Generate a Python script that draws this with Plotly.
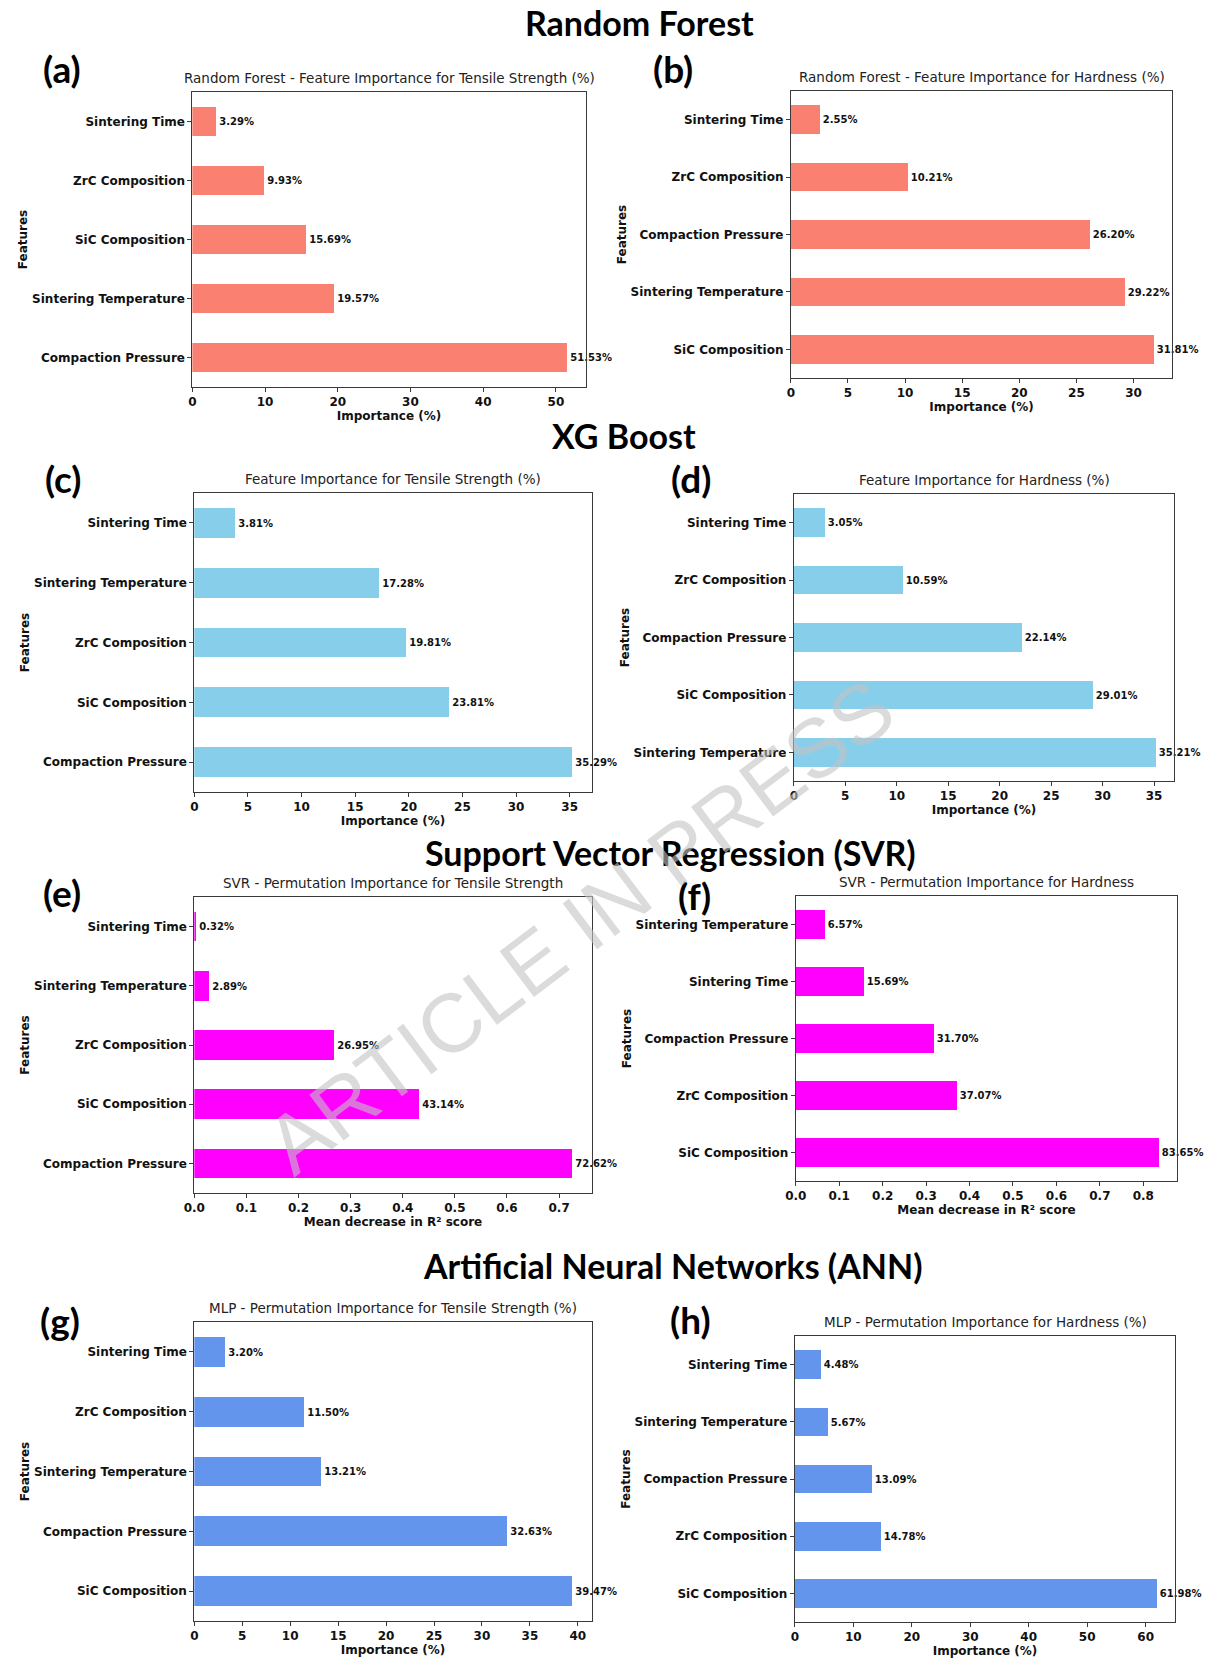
import plotly.graph_objects as go

W, H = 1211, 1659

# ---- data (bottom-to-top order within each panel) ----
rf_ts_features = ["Compaction Pressure", "Sintering Temperature", "SiC Composition", "ZrC Composition", "Sintering Time"]
rf_ts_values = [51.53, 19.57, 15.69, 9.93, 3.29]

rf_hd_features = ["SiC Composition", "Sintering Temperature", "Compaction Pressure", "ZrC Composition", "Sintering Time"]
rf_hd_values = [31.81, 29.22, 26.20, 10.21, 2.55]

xgb_ts_features = ["Compaction Pressure", "SiC Composition", "ZrC Composition", "Sintering Temperature", "Sintering Time"]
xgb_ts_values = [35.29, 23.81, 19.81, 17.28, 3.81]

xgb_hd_features = ["Sintering Temperature", "SiC Composition", "Compaction Pressure", "ZrC Composition", "Sintering Time"]
xgb_hd_values = [35.21, 29.01, 22.14, 10.59, 3.05]

svr_ts_features = ["Compaction Pressure", "SiC Composition", "ZrC Composition", "Sintering Temperature", "Sintering Time"]
svr_ts_values = [0.7262, 0.4314, 0.2695, 0.0289, 0.0032]

svr_hd_features = ["SiC Composition", "ZrC Composition", "Compaction Pressure", "Sintering Time", "Sintering Temperature"]
svr_hd_values = [0.8365, 0.3707, 0.3170, 0.1569, 0.0657]

mlp_ts_features = ["SiC Composition", "Compaction Pressure", "Sintering Temperature", "ZrC Composition", "Sintering Time"]
mlp_ts_values = [39.47, 32.63, 13.21, 11.50, 3.20]

mlp_hd_features = ["SiC Composition", "ZrC Composition", "Compaction Pressure", "Sintering Temperature", "Sintering Time"]
mlp_hd_values = [61.98, 14.78, 13.09, 5.67, 4.48]

SALMON, SKYBLUE, MAGENTA, CORNFLOWER = "#FA8072", "#87CEEB", "#FF00FF", "#6495ED"
IMP = "Importance (%)"
R2 = "Mean decrease in R² score"

# panel specs: features, values, colour, title, x-title, dtick, scale for labels, plot box (px: x0, x1, y0, y1), tag, tag position
panels = [
    (rf_ts_features, rf_ts_values, SALMON, "Random Forest - Feature Importance for Tensile Strength (%)", IMP, 10, 1,
     (183, 580, 92, 387), "(a)", (51, 69)),
    (rf_hd_features, rf_hd_values, SALMON, "Random Forest - Feature Importance for Hardness (%)", IMP, 5, 1,
     (787, 1172, 91, 378), "(b)", (668, 69)),
    (xgb_ts_features, xgb_ts_values, SKYBLUE, "Feature Importance for Tensile Strength (%)", IMP, 5, 1,
     (185, 586, 493, 792), "(c)", (52, 479)),
    (xgb_hd_features, xgb_hd_values, SKYBLUE, "Feature Importance for Hardness (%)", IMP, 5, 1,
     (790, 1174, 494, 781), "(d)", (686, 479)),
    (svr_ts_features, svr_ts_values, MAGENTA, "SVR - Permutation Importance for Tensile Strength", R2, 0.1, 100,
     (185, 586, 897, 1193), "(e)", (51, 892)),
    (svr_hd_features, svr_hd_values, MAGENTA, "SVR - Permutation Importance for Hardness", R2, 0.1, 100,
     (792, 1177, 896, 1181), "(f)", (690, 896)),
    (mlp_ts_features, mlp_ts_values, CORNFLOWER, "MLP - Permutation Importance for Tensile Strength (%)", IMP, 5, 1,
     (185, 586, 1322, 1621), "(g)", (49, 1320)),
    (mlp_hd_features, mlp_hd_values, CORNFLOWER, "MLP - Permutation Importance for Hardness (%)", IMP, 10, 1,
     (791, 1175, 1336, 1622), "(h)", (686, 1319)),
]

section_titles = [
    ("Random Forest", 634, 22),
    ("XG Boost", 619, 435),
    ("Support Vector Regression (SVR)", 666, 853),
    ("Artificial Neural Networks (ANN)", 668, 1265),
]


def px(x):
    return x / W


def py(y):
    return 1 - y / H


BASE = "DejaVu Sans"
HEAD = "Lato"
AX = "#3a3a3a"

fig = go.Figure()
annotations = []
layout = {}

for i, (feats, vals, color, title, xtitle, dtick, scale, box, tag, tagpos) in enumerate(panels, start=1):
    x0, x1, y0, y1 = box
    sfx = "" if i == 1 else str(i)
    fig.add_trace(go.Bar(
        x=vals, y=feats, orientation="h", width=0.5,
        marker=dict(color=color, line=dict(width=0)),
        text=[f"{v * scale:.2f}%" for v in vals],
        textposition="outside", cliponaxis=False, constraintext="none",
        outsidetextfont=dict(family=BASE, size=10, color="#111", weight="bold"),
        xaxis=f"x{sfx}", yaxis=f"y{sfx}", hoverinfo="skip", showlegend=False,
    ))
    layout[f"xaxis{sfx}"] = dict(
        domain=[px(x0), px(x1)], anchor=f"y{sfx}",
        range=[0, 1.05 * max(vals)], tick0=0, dtick=dtick,
        tickformat=".1f" if dtick < 1 else "d",
        showline=True, mirror=True, linecolor=AX, linewidth=1,
        ticks="outside", ticklen=4, tickcolor=AX,
        tickfont=dict(family=BASE, size=12, color="#111", weight="bold"),
        title=dict(text=xtitle, font=dict(family=BASE, size=12, color="#111", weight="bold"), standoff=2),
        showgrid=False, zeroline=False, fixedrange=True,
    )
    layout[f"yaxis{sfx}"] = dict(
        domain=[py(y1), py(y0)], anchor=f"x{sfx}",
        type="category", categoryorder="array", categoryarray=feats,
        range=[-0.5, 4.5],
        showline=True, mirror=True, linecolor=AX, linewidth=1,
        ticks="outside", ticklen=4, tickcolor=AX,
        tickfont=dict(family=BASE, size=12, color="#111", weight="bold"),
        title=dict(text="Features", font=dict(family=BASE, size=12, color="#111", weight="bold"), standoff=1),
        showgrid=False, zeroline=False, fixedrange=True,
    )
    # subplot title
    annotations.append(dict(
        text=title, x=px((x0 + x1) / 2), y=py(y0 - 4), xref="paper", yref="paper",
        xanchor="center", yanchor="bottom", showarrow=False,
        font=dict(family=BASE, size=13.5, color="#222"),
    ))
    # panel tag
    annotations.append(dict(
        text=f"<b>{tag}</b>", x=px(tagpos[0]), y=py(tagpos[1]), xref="paper", yref="paper",
        xanchor="center", yanchor="middle", showarrow=False,
        font=dict(family=HEAD, size=37, color="black"),
    ))

for text, cx, cy in section_titles:
    annotations.append(dict(
        text=f"<b>{text}</b>", x=px(cx), y=py(cy), xref="paper", yref="paper",
        xanchor="center", yanchor="middle", showarrow=False,
        font=dict(family=HEAD, size=34, color="black"),
    ))

# diagonal watermark
annotations.append(dict(
    text="ARTICLE IN PRESS", x=px(574), y=py(926), xref="paper", yref="paper",
    xanchor="center", yanchor="middle", showarrow=False, textangle=-37,
    font=dict(family="Liberation Sans", size=83, color="rgba(195,195,195,0.6)"),
))

fig.update_layout(
    width=W, height=H, margin=dict(l=0, r=0, t=0, b=0),
    paper_bgcolor="white", plot_bgcolor="white",
    annotations=annotations, bargap=0, **layout,
)

fig.write_html("out.html", config={"displayModeBar": False})
